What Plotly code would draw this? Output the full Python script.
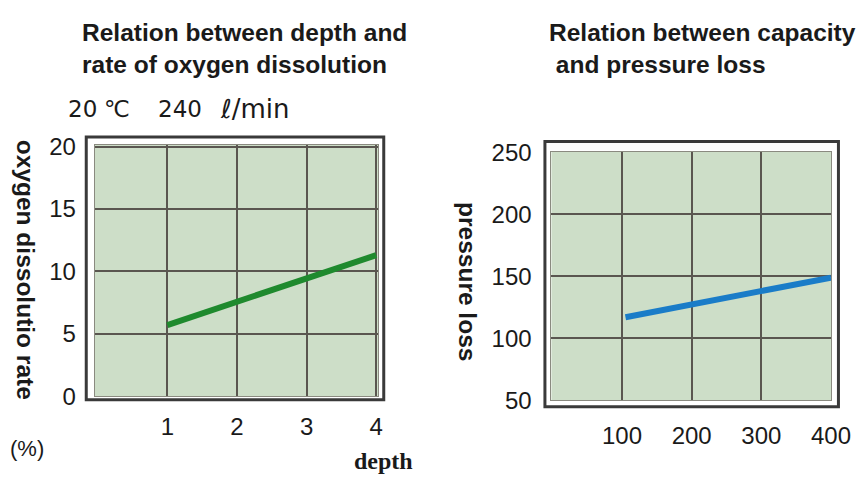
import plotly.graph_objects as go

# ---- data ----
depth = [1, 4]
oxygen_rate = [5.7, 11.3]
capacity = [105, 400]
pressure_loss = [117, 149]

left_xticks = [1, 2, 3, 4]
left_yticks = [0, 5, 10, 15, 20]
right_xticks = [100, 200, 300, 400]
right_yticks = [50, 100, 150, 200, 250]

W, H = 864, 477
# the page photo shows the figure offset and slightly scaled; map picture pixels to paper
OX, OY, SX, SY = 7.85, 19.8, 0.9818, 0.943
BG = "#cddec8"
GRID = "#5a5650"
FONT = "Liberation Sans, Arial, sans-serif"
SERIF = "Liberation Serif, Times New Roman, serif"
WIDE = "DejaVu Sans, sans-serif"

def px(x):
    return (x - OX) / SX / W

def py(y):
    return 1 - (y - OY) / SY / H

fig = go.Figure()
fig.add_trace(go.Scatter(x=depth, y=oxygen_rate, mode="lines",
                         line=dict(color="#1f8a2e", width=6), xaxis="x", yaxis="y",
                         showlegend=False, hoverinfo="skip"))
fig.add_trace(go.Scatter(x=capacity, y=pressure_loss, mode="lines",
                         line=dict(color="#1a7cc8", width=6), xaxis="x2", yaxis="y2",
                         showlegend=False, hoverinfo="skip"))

axis_common = dict(showgrid=True, gridcolor=GRID, gridwidth=2, zeroline=False,
                   showline=True, linecolor="#8a8a80", linewidth=1, mirror=True,
                   tickfont=dict(family=FONT, size=24, color="#1a1a1a"), ticks="",
                   fixedrange=True)

fig.update_layout(
    width=W, height=H,
    margin=dict(l=0, r=0, t=0, b=0),
    paper_bgcolor="white",
    plot_bgcolor=BG,
    xaxis=dict(domain=[px(95), px(380)], range=[-0.043, 4.029], anchor="y",
               tickvals=left_xticks, ticklabelstandoff=9, **axis_common),
    yaxis=dict(domain=[py(394), py(143)], range=[0, 20.16], anchor="x",
               tickvals=left_yticks, ticklabelstandoff=13, **axis_common),
    xaxis2=dict(domain=[px(554), px(835)], range=[-1.4, 400], anchor="y2",
                tickvals=right_xticks, ticklabelstandoff=14, **axis_common),
    yaxis2=dict(domain=[py(398), py(150)], range=[50, 250.8], anchor="x2",
                tickvals=right_yticks, ticklabelstandoff=14, **axis_common),
)

# outer frames
for x0, y0, x1, y1 in [(86.5, 135.5, 385.5, 397.5), (547.5, 140, 842.5, 404.5)]:
    fig.add_shape(type="rect", xref="paper", yref="paper",
                  x0=px(x0), x1=px(x1), y0=py(y1), y1=py(y0),
                  line=dict(color="#3a3a3a", width=3), fillcolor="rgba(0,0,0,0)", layer="below")

def ann(text, x, y, size, bold=False, xanchor="left", yanchor="middle", angle=0,
        family=FONT, yshift=0):
    fig.add_annotation(text=f"<b>{text}</b>" if bold else text,
                       x=px(x), y=py(y) if y is not None else 1, xref="paper", yref="paper",
                       xanchor=xanchor, yanchor=yanchor, showarrow=False, align="left",
                       textangle=angle, yshift=yshift,
                       font=dict(family=family, size=size, color="#1a1a1a"))

ann("Relation between depth and<br>rate of oxygen dissolution", 80, None, 24.5,
    bold=True, yanchor="top", yshift=4)
ann("Relation between capacity<br>&nbsp;and pressure loss", 550, None, 24.5,
    bold=True, yanchor="top", yshift=4)
ann("20", 66, 108, 23, family=WIDE)
ann("℃", 102, 108, 23, family=WIDE)
ann("240", 157, 108, 23, family=WIDE)
ann("ℓ/min", 219, 108, 26, family=WIDE)
ann("oxygen dissolutio rate", 25, 268, 24.5, bold=True, xanchor="center", angle=90)
ann("(%)", 27, 446, 22, xanchor="center")
ann("depth", 385, 459, 24, bold=True, xanchor="center", family=SERIF)
ann("pressure loss", 469, 280, 24.5, bold=True, xanchor="center", angle=90)

fig.write_html("out.html")
